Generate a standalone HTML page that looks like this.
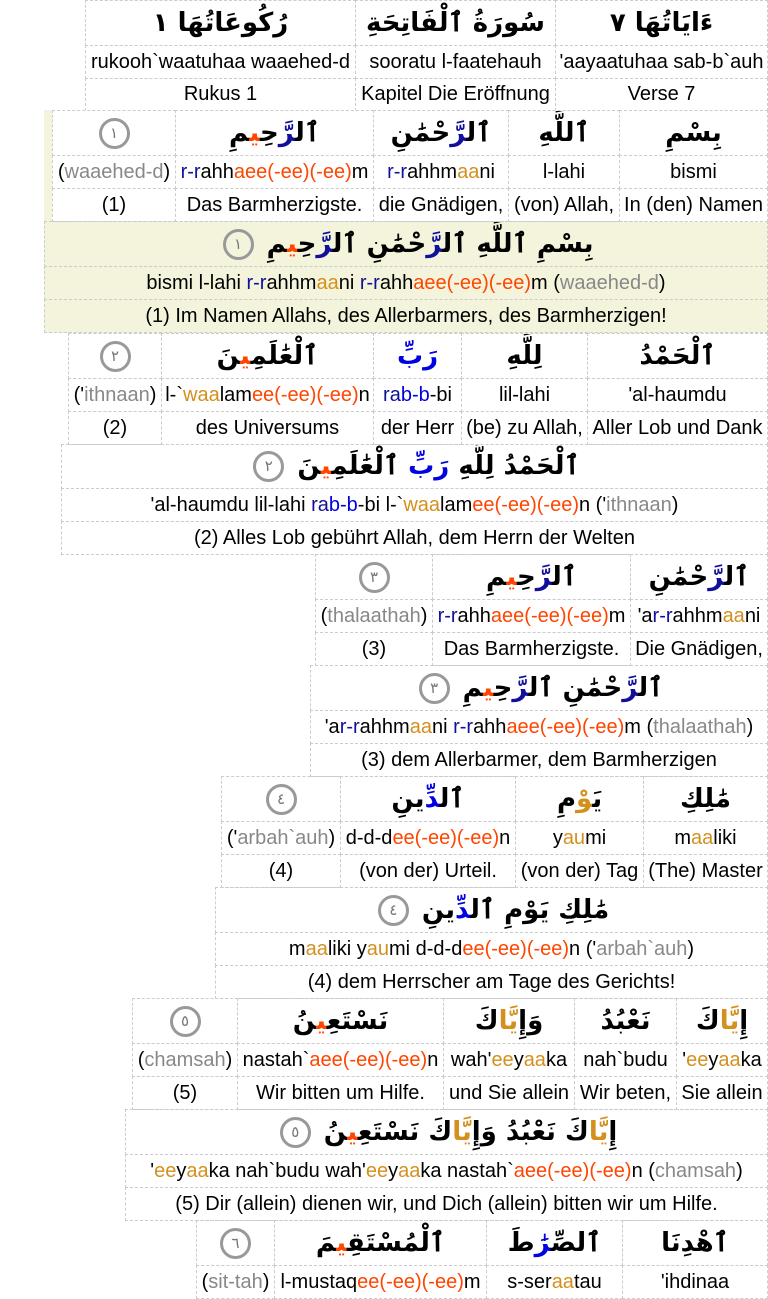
<!DOCTYPE html>
<html><head><meta charset="utf-8"><style>
body{margin:0;width:768px;height:1280px;overflow:hidden;background:#fff;position:relative;font-family:"Liberation Sans",sans-serif;font-size:20px;color:#000}
.c{position:absolute;box-sizing:border-box;border:1px dashed #ccc;display:flex;align-items:center;justify-content:center;white-space:nowrap;overflow:hidden}
.a{font-family:"DejaVu Sans","Noto Sans CJK SC",serif;font-size:26px;font-weight:bold;direction:rtl}
.n{display:inline-block;width:31px;height:31px;border:3px solid #999;border-radius:50%;box-sizing:border-box;color:#777;font-size:15px;font-weight:normal;line-height:25px;text-align:center;font-family:"DejaVu Sans",sans-serif;margin:0 4px;vertical-align:middle}
.bg{position:absolute;background:#f4f4dc}
.b{color:#10109a}.B{color:#0000e0}.o{color:#ff4500}.g{color:#d4901e}.gr{color:#888}
</style></head><body>
<div class="bg" style="left:44px;top:110px;width:724px;height:223px"></div>

<div class="c a" style="left:85px;top:0;width:271px;height:46px">رُكُوعَاتُهَا ١</div>
<div class="c a" style="left:355px;top:0;width:201px;height:46px">سُورَةُ ٱلْفَاتِحَةِ</div>
<div class="c a" style="left:555px;top:0;width:213px;height:46px">ءَايَاتُهَا ٧</div>
<div class="c" style="left:85px;top:45px;width:271px;height:34px">rukooh`waatuhaa waaehed-d</div>
<div class="c" style="left:355px;top:45px;width:201px;height:34px">sooratu l-faatehauh</div>
<div class="c" style="left:555px;top:45px;width:213px;height:34px">'aayaatuhaa sab-b`auh</div>
<div class="c" style="left:85px;top:78px;width:271px;height:33px">Rukus 1</div>
<div class="c" style="left:355px;top:78px;width:201px;height:33px">Kapitel Die Eröffnung</div>
<div class="c" style="left:555px;top:78px;width:213px;height:33px">Verse 7</div>

<div class="c" style="left:52px;top:110px;width:124px;height:46px;background:#fff"><span class="n">١</span></div>
<div class="c a" style="left:175px;top:110px;width:199px;height:46px;background:#fff"><span>ٱل<span class="b">رَّ</span>حِ<span class="o">ي</span>مِ</span></div>
<div class="c a" style="left:373px;top:110px;width:136px;height:46px;background:#fff"><span>ٱل<span class="b">رَّ</span>حْمَٰنِ</span></div>
<div class="c a" style="left:508px;top:110px;width:112px;height:46px;background:#fff">ٱللَّهِ</div>
<div class="c a" style="left:619px;top:110px;width:149px;height:46px;background:#fff">بِسْمِ</div>
<div class="c" style="left:52px;top:155px;width:124px;height:34px;background:#fff"><span>(<span class="gr">waaehed-d</span>)</span></div>
<div class="c" style="left:175px;top:155px;width:199px;height:34px;background:#fff"><span><span class="b">r-r</span>ahh<span class="o">aee(-ee)(-ee)</span>m</span></div>
<div class="c" style="left:373px;top:155px;width:136px;height:34px;background:#fff"><span><span class="b">r-r</span>ahhm<span class="g">aa</span>ni</span></div>
<div class="c" style="left:508px;top:155px;width:112px;height:34px;background:#fff">l-lahi</div>
<div class="c" style="left:619px;top:155px;width:149px;height:34px;background:#fff">bismi</div>
<div class="c" style="left:52px;top:188px;width:124px;height:34px;background:#fff">(1)</div>
<div class="c" style="left:175px;top:188px;width:199px;height:34px;background:#fff">Das Barmherzigste.</div>
<div class="c" style="left:373px;top:188px;width:136px;height:34px;background:#fff">die Gnädigen,</div>
<div class="c" style="left:508px;top:188px;width:112px;height:34px;background:#fff">(von) Allah,</div>
<div class="c" style="left:619px;top:188px;width:149px;height:34px;background:#fff">In (den) Namen</div>
<div class="c a" style="left:44px;top:221px;width:724px;height:46px"><span>بِسْمِ ٱللَّهِ ٱل<span class="b">رَّ</span>حْمَٰنِ ٱل<span class="b">رَّ</span>حِ<span class="o">ي</span>مِ <span class="n">١</span></span></div>
<div class="c" style="left:44px;top:266px;width:724px;height:34px"><span>bismi l-lahi <span class="b">r-r</span>ahhm<span class="g">aa</span>ni <span class="b">r-r</span>ahh<span class="o">aee(-ee)(-ee)</span>m (<span class="gr">waaehed-d</span>)</span></div>
<div class="c" style="left:44px;top:299px;width:724px;height:34px">(1) Im Namen Allahs, des Allerbarmers, des Barmherzigen!</div>

<div class="c" style="left:68px;top:333px;width:94px;height:46px"><span class="n">٢</span></div>
<div class="c a" style="left:161px;top:333px;width:213px;height:46px"><span>ٱلْعَٰلَمِ<span class="o">ي</span>نَ</span></div>
<div class="c a" style="left:373px;top:333px;width:89px;height:46px"><span class="B">رَبِّ</span></div>
<div class="c a" style="left:461px;top:333px;width:127px;height:46px">لِلَّهِ</div>
<div class="c a" style="left:587px;top:333px;width:181px;height:46px">ٱلْحَمْدُ</div>
<div class="c" style="left:68px;top:378px;width:94px;height:34px"><span>('<span class="gr">ithnaan</span>)</span></div>
<div class="c" style="left:161px;top:378px;width:213px;height:34px"><span>l-`<span class="g">waa</span>lam<span class="o">ee(-ee)(-ee)</span>n</span></div>
<div class="c" style="left:373px;top:378px;width:89px;height:34px"><span><span class="b">ra</span><span class="B">b-b</span>-bi</span></div>
<div class="c" style="left:461px;top:378px;width:127px;height:34px">lil-lahi</div>
<div class="c" style="left:587px;top:378px;width:181px;height:34px">'al-haumdu</div>
<div class="c" style="left:68px;top:411px;width:94px;height:34px">(2)</div>
<div class="c" style="left:161px;top:411px;width:213px;height:34px">des Universums</div>
<div class="c" style="left:373px;top:411px;width:89px;height:34px">der Herr</div>
<div class="c" style="left:461px;top:411px;width:127px;height:34px">(be) zu Allah,</div>
<div class="c" style="left:587px;top:411px;width:181px;height:34px">Aller Lob und Dank</div>
<div class="c a" style="left:61px;top:444px;width:707px;height:45px"><span>ٱلْحَمْدُ لِلَّهِ <span class="B">رَبِّ</span> ٱلْعَٰلَمِ<span class="o">ي</span>نَ <span class="n">٢</span></span></div>
<div class="c" style="left:61px;top:488px;width:707px;height:34px"><span>'al-haumdu lil-lahi <span class="b">ra</span><span class="B">b-b</span>-bi l-`<span class="g">waa</span>lam<span class="o">ee(-ee)(-ee)</span>n ('<span class="gr">ithnaan</span>)</span></div>
<div class="c" style="left:61px;top:521px;width:707px;height:34px">(2) Alles Lob gebührt Allah, dem Herrn der Welten</div>

<div class="c" style="left:315px;top:554px;width:118px;height:46px"><span class="n">٣</span></div>
<div class="c a" style="left:432px;top:554px;width:199px;height:46px"><span>ٱل<span class="b">رَّ</span>حِ<span class="o">ي</span>مِ</span></div>
<div class="c a" style="left:630px;top:554px;width:138px;height:46px"><span>ٱل<span class="b">رَّ</span>حْمَٰنِ</span></div>
<div class="c" style="left:315px;top:599px;width:118px;height:34px"><span>(<span class="gr">thalaathah</span>)</span></div>
<div class="c" style="left:432px;top:599px;width:199px;height:34px"><span><span class="b">r-r</span>ahh<span class="o">aee(-ee)(-ee)</span>m</span></div>
<div class="c" style="left:630px;top:599px;width:138px;height:34px"><span>'a<span class="b">r-r</span>ahhm<span class="g">aa</span>ni</span></div>
<div class="c" style="left:315px;top:632px;width:118px;height:34px">(3)</div>
<div class="c" style="left:432px;top:632px;width:199px;height:34px">Das Barmherzigste.</div>
<div class="c" style="left:630px;top:632px;width:138px;height:34px">Die Gnädigen,</div>
<div class="c a" style="left:310px;top:665px;width:458px;height:46px"><span>ٱل<span class="b">رَّ</span>حْمَٰنِ ٱل<span class="b">رَّ</span>حِ<span class="o">ي</span>مِ <span class="n">٣</span></span></div>
<div class="c" style="left:310px;top:710px;width:458px;height:34px"><span>'a<span class="b">r-r</span>ahhm<span class="g">aa</span>ni <span class="b">r-r</span>ahh<span class="o">aee(-ee)(-ee)</span>m (<span class="gr">thalaathah</span>)</span></div>
<div class="c" style="left:310px;top:743px;width:458px;height:34px">(3) dem Allerbarmer, dem Barmherzigen</div>

<div class="c" style="left:221px;top:776px;width:120px;height:46px"><span class="n">٤</span></div>
<div class="c a" style="left:340px;top:776px;width:176px;height:46px"><span>ٱل<span class="B">دِّ</span>ينِ</span></div>
<div class="c a" style="left:515px;top:776px;width:129px;height:46px"><span>يَ<span class="g">وْ</span>مِ</span></div>
<div class="c a" style="left:643px;top:776px;width:125px;height:46px">مَٰلِكِ</div>
<div class="c" style="left:221px;top:821px;width:120px;height:34px"><span>('<span class="gr">arbah`auh</span>)</span></div>
<div class="c" style="left:340px;top:821px;width:176px;height:34px"><span>d-d-d<span class="o">ee(-ee)(-ee)</span>n</span></div>
<div class="c" style="left:515px;top:821px;width:129px;height:34px"><span>y<span class="g">au</span>mi</span></div>
<div class="c" style="left:643px;top:821px;width:125px;height:34px"><span>m<span class="g">aa</span>liki</span></div>
<div class="c" style="left:221px;top:854px;width:120px;height:34px">(4)</div>
<div class="c" style="left:340px;top:854px;width:176px;height:34px">(von der) Urteil.</div>
<div class="c" style="left:515px;top:854px;width:129px;height:34px">(von der) Tag</div>
<div class="c" style="left:643px;top:854px;width:125px;height:34px">(The) Master</div>
<div class="c a" style="left:215px;top:887px;width:553px;height:46px"><span>مَٰلِكِ يَوْمِ ٱل<span class="B">دِّ</span>ينِ <span class="n">٤</span></span></div>
<div class="c" style="left:215px;top:932px;width:553px;height:34px"><span>m<span class="g">aa</span>liki y<span class="g">au</span>mi d-d-d<span class="o">ee(-ee)(-ee)</span>n ('<span class="gr">arbah`auh</span>)</span></div>
<div class="c" style="left:215px;top:965px;width:553px;height:34px">(4) dem Herrscher am Tage des Gerichts!</div>

<div class="c" style="left:132px;top:998px;width:106px;height:46px"><span class="n">٥</span></div>
<div class="c a" style="left:237px;top:998px;width:207px;height:46px"><span>نَسْتَعِ<span class="o">ي</span>نُ</span></div>
<div class="c a" style="left:443px;top:998px;width:132px;height:46px"><span>وَإِ<span class="g">يَّا</span>كَ</span></div>
<div class="c a" style="left:574px;top:998px;width:103px;height:46px">نَعْبُدُ</div>
<div class="c a" style="left:676px;top:998px;width:92px;height:46px"><span>إِ<span class="g">يَّا</span>كَ</span></div>
<div class="c" style="left:132px;top:1043px;width:106px;height:34px"><span>(<span class="gr">chamsah</span>)</span></div>
<div class="c" style="left:237px;top:1043px;width:207px;height:34px"><span>nastah`<span class="o">aee(-ee)(-ee)</span>n</span></div>
<div class="c" style="left:443px;top:1043px;width:132px;height:34px"><span>wah'<span class="g">ee</span>y<span class="g">aa</span>ka</span></div>
<div class="c" style="left:574px;top:1043px;width:103px;height:34px">nah`budu</div>
<div class="c" style="left:676px;top:1043px;width:92px;height:34px"><span>'<span class="g">ee</span>y<span class="g">aa</span>ka</span></div>
<div class="c" style="left:132px;top:1076px;width:106px;height:34px">(5)</div>
<div class="c" style="left:237px;top:1076px;width:207px;height:34px">Wir bitten um Hilfe.</div>
<div class="c" style="left:443px;top:1076px;width:132px;height:34px">und Sie allein</div>
<div class="c" style="left:574px;top:1076px;width:103px;height:34px">Wir beten,</div>
<div class="c" style="left:676px;top:1076px;width:92px;height:34px">Sie allein</div>
<div class="c a" style="left:125px;top:1109px;width:643px;height:46px"><span>إِ<span class="g">يَّا</span>كَ نَعْبُدُ وَإِ<span class="g">يَّا</span>كَ نَسْتَعِ<span class="o">ي</span>نُ <span class="n">٥</span></span></div>
<div class="c" style="left:125px;top:1154px;width:643px;height:34px"><span>'<span class="g">ee</span>y<span class="g">aa</span>ka nah`budu wah'<span class="g">ee</span>y<span class="g">aa</span>ka nastah`<span class="o">aee(-ee)(-ee)</span>n (<span class="gr">chamsah</span>)</span></div>
<div class="c" style="left:125px;top:1187px;width:643px;height:34px">(5) Dir (allein) dienen wir, und Dich (allein) bitten wir um Hilfe.</div>

<div class="c" style="left:196px;top:1220px;width:79px;height:46px"><span class="n">٦</span></div>
<div class="c a" style="left:274px;top:1220px;width:213px;height:46px"><span>ٱلْمُسْتَقِ<span class="o">ي</span>مَ</span></div>
<div class="c a" style="left:486px;top:1220px;width:137px;height:46px"><span>ٱلصِّ<span class="B">رَٰ</span>طَ</span></div>
<div class="c a" style="left:622px;top:1220px;width:146px;height:46px">ٱهْدِنَا</div>
<div class="c" style="left:196px;top:1265px;width:79px;height:34px"><span>(<span class="gr">sit-tah</span>)</span></div>
<div class="c" style="left:274px;top:1265px;width:213px;height:34px"><span>l-mustaq<span class="o">ee(-ee)(-ee)</span>m</span></div>
<div class="c" style="left:486px;top:1265px;width:137px;height:34px"><span>s-ser<span class="g">aa</span>tau</span></div>
<div class="c" style="left:622px;top:1265px;width:146px;height:34px">'ihdinaa</div>
</body></html>
